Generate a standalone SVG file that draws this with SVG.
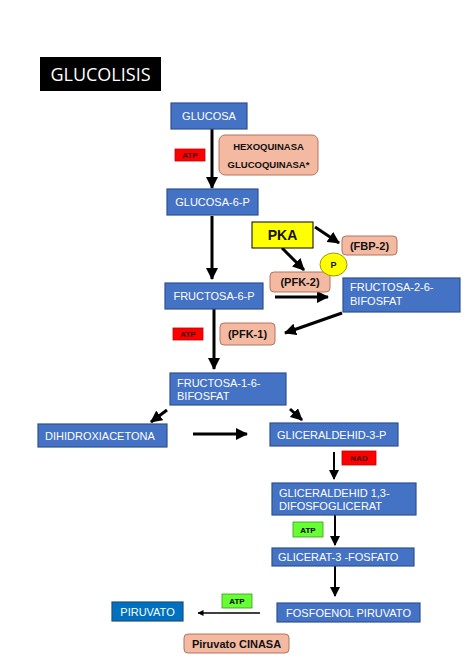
<svg xmlns="http://www.w3.org/2000/svg" width="474" height="670" viewBox="0 0 474 670">
<style>
.bx{fill:#4472c4;stroke:#2f528f;stroke-width:1.2}
.bx2{fill:#0070c0;stroke:#1f4e79;stroke-width:1.2}
.en{fill:#f4b9a1;stroke:#b5735c;stroke-width:1}
.red{fill:#ff0000;stroke:#c00000;stroke-width:0.8}
.grn{fill:#66ff33;stroke:#3a9a1a;stroke-width:0.8}
.t{font-family:"Liberation Sans",Arial,sans-serif;font-size:11px;fill:#ffffff}
.tc{text-anchor:middle}
.b{font-family:"Liberation Sans",Arial,sans-serif;font-weight:bold;fill:#111111;text-anchor:middle}
.s{font-family:"Liberation Sans",Arial,sans-serif;font-weight:bold;font-size:8px;text-anchor:middle}
.a{stroke:#000;stroke-width:3;fill:none;marker-end:url(#ah)}
.a2{stroke:#000;stroke-width:2;fill:none;marker-end:url(#ah2)}
.a3{stroke:#000;stroke-width:1.3;fill:none;marker-end:url(#ah3)}
</style>
<defs>
<marker id="ah" markerUnits="userSpaceOnUse" markerWidth="12" markerHeight="12" refX="11" refY="6" orient="auto"><path d="M0,0 L12,6 L0,12 z" fill="#000"/></marker>
<marker id="ah2" markerUnits="userSpaceOnUse" markerWidth="10" markerHeight="10" refX="9" refY="5" orient="auto"><path d="M0,0 L10,5 L0,10 z" fill="#000"/></marker>
<marker id="ah3" markerUnits="userSpaceOnUse" markerWidth="6" markerHeight="6" refX="5.5" refY="3" orient="auto"><path d="M0,0 L6,3 L0,6 z" fill="#000"/></marker>
</defs>
<rect width="474" height="670" fill="#ffffff"/>

<g id="title">
<rect x="40" y="57" width="121" height="34" fill="#000"/>
<text x="100.5" y="81" font-family="'Open Sans',sans-serif" font-size="18" fill="#fff" text-anchor="middle">GLUCOLISIS</text>
</g>

<g id="connectors">
<line class="a" x1="212" y1="129" x2="212" y2="188"/>
<line class="a" x1="212" y1="216" x2="212" y2="279"/>
<line class="a" x1="315" y1="227" x2="339" y2="243"/>
<line class="a" x1="282" y1="248" x2="304" y2="270"/>
<line class="a" x1="275" y1="297" x2="328" y2="297"/>
<line class="a" x1="342" y1="313" x2="285" y2="333"/>
<line class="a" x1="214" y1="309" x2="214" y2="369"/>
<line class="a" x1="167" y1="410" x2="151" y2="422"/>
<line class="a" x1="290" y1="409" x2="302" y2="420"/>
<line class="a" x1="193" y1="434" x2="247" y2="434"/>
<line class="a2" x1="334" y1="452" x2="334" y2="479"/>
<line class="a2" x1="335" y1="515" x2="335" y2="545"/>
<line class="a2" x1="335" y1="566" x2="335" y2="596"/>
<line class="a3" x1="260" y1="613" x2="198" y2="613"/>
</g>

<g id="glucosa">
<rect class="bx" x="171" y="103" width="76" height="26"/>
<text class="t tc" x="209" y="120">GLUCOSA</text>
</g>
<g id="atp1">
<rect class="red" x="175" y="149" width="30" height="12"/>
<text class="s" x="190" y="158" fill="#3a0000">ATP</text>
</g>
<g id="hexoquinasa">
<rect class="en" x="219" y="135" width="99" height="40" rx="6"/>
<text class="b" x="268.5" y="150" font-size="9.5">HEXOQUINASA</text>
<text class="b" x="268.5" y="168" font-size="9.5">GLUCOQUINASA*</text>
</g>
<g id="glucosa6p">
<rect class="bx" x="167" y="189" width="91" height="26"/>
<text class="t tc" x="212.5" y="206">GLUCOSA-6-P</text>
</g>
<g id="pka">
<rect x="252" y="222" width="61" height="26" fill="#ffff00" stroke="#000" stroke-width="1"/>
<text class="b" x="282.5" y="240" font-size="14">PKA</text>
</g>
<g id="fbp2">
<rect class="en" x="342" y="236" width="55" height="19" rx="4"/>
<text class="b" x="369.5" y="249.5" font-size="11">(FBP-2)</text>
</g>
<g id="pfk2">
<rect class="en" x="270" y="272" width="60" height="20" rx="4"/>
<text class="b" x="300" y="286" font-size="11">(PFK-2)</text>
</g>
<g id="p">
<ellipse cx="333.5" cy="264.5" rx="13.5" ry="11.5" fill="#ffff00" stroke="#7f7f00" stroke-width="0.8"/>
<text class="b" x="333.5" y="268" font-size="9">P</text>
</g>
<g id="fructosa6p">
<rect class="bx" x="165" y="283" width="98" height="26"/>
<text class="t tc" x="214" y="300">FRUCTOSA-6-P</text>
</g>
<g id="fructosa26bp">
<rect class="bx" x="343" y="278" width="117" height="34"/>
<text class="t" x="350" y="291">FRUCTOSA-2-6-</text>
<text class="t" x="350" y="305">BIFOSFAT</text>
</g>
<g id="atp2">
<rect class="red" x="173" y="328" width="30" height="12"/>
<text class="s" x="188" y="337" fill="#3a0000">ATP</text>
</g>
<g id="pfk1">
<rect class="en" x="220" y="323" width="55" height="22" rx="4"/>
<text class="b" x="247.5" y="338" font-size="11">(PFK-1)</text>
</g>
<g id="fructosa16bp">
<rect class="bx" x="170" y="373" width="116" height="32"/>
<text class="t" x="177" y="387">FRUCTOSA-1-6-</text>
<text class="t" x="177" y="400">BIFOSFAT</text>
</g>
<g id="dihidroxiacetona">
<rect class="bx" x="38" y="424" width="129" height="23"/>
<text class="t" x="45" y="439.5">DIHIDROXIACETONA</text>
</g>
<g id="gliceraldehid3p">
<rect class="bx" x="270" y="423" width="128" height="23"/>
<text class="t" x="277" y="438.5">GLICERALDEHID-3-P</text>
</g>
<g id="nad">
<rect class="red" x="342" y="451" width="34" height="14"/>
<text class="s" x="359" y="461" fill="#3a0000">NAD</text>
</g>
<g id="gliceraldehid13">
<rect class="bx" x="272" y="483" width="144" height="32"/>
<text class="t" x="279" y="497">GLICERALDEHID 1,3-</text>
<text class="t" x="279" y="510">DIFOSFOGLICERAT</text>
</g>
<g id="atp3">
<rect class="grn" x="293" y="522" width="30" height="15"/>
<text class="s" x="308" y="532.5" fill="#000">ATP</text>
</g>
<g id="glicerat3">
<rect class="bx" x="272" y="548" width="142" height="18"/>
<text class="t" x="278" y="561">GLICERAT-3 -FOSFATO</text>
</g>
<g id="fosfoenol">
<rect class="bx" x="277" y="603" width="143" height="19"/>
<text class="t tc" x="348.5" y="616.5">FOSFOENOL PIRUVATO</text>
</g>
<g id="atp4">
<rect class="grn" x="222" y="594" width="30" height="14"/>
<text class="s" x="237" y="604" fill="#000">ATP</text>
</g>
<g id="piruvato">
<rect class="bx2" x="112" y="602" width="71" height="19"/>
<text class="t tc" x="147.5" y="615.5">PIRUVATO</text>
</g>
<g id="piruvatocinasa">
<rect class="en" x="184" y="634" width="105" height="19" rx="4"/>
<text class="b" x="236.5" y="647.5" font-size="11">Piruvato CINASA</text>
</g>
</svg>
